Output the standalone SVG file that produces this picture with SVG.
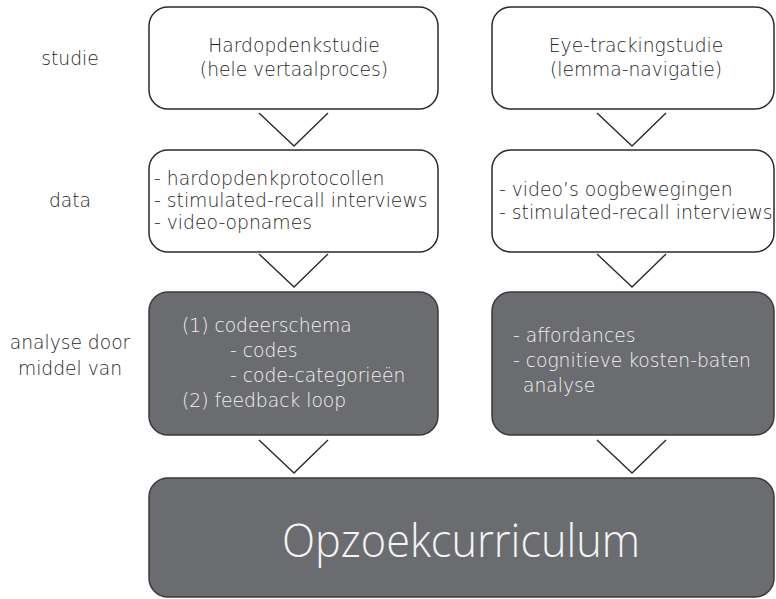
<svg xmlns="http://www.w3.org/2000/svg" width="776" height="599" viewBox="0 0 776 599">
<style>
text{font-family:"DejaVu Sans","Liberation Sans",sans-serif;font-weight:300;}
.lbl{font-size:18.7px;fill:#262626;text-anchor:middle;}
.t{font-size:18.8px;fill:#262626;}
.tc{font-size:18.7px;fill:#262626;text-anchor:middle;}
.td{font-size:18.7px;fill:#f2f2f2;}
.wbox{fill:#ffffff;stroke:#2a2a2a;stroke-width:1.5;}
.dbox{fill:#6b6c70;stroke:#3a3a3a;stroke-width:1.5;}
.chev{fill:none;stroke:#2a2a2a;stroke-width:1.4;}
.title{font-family:"Open Sans","Liberation Sans",sans-serif;font-size:46px;fill:#f4f4f4;text-anchor:middle;font-weight:300;}
</style>
<rect width="776" height="599" fill="#ffffff"/>
<g id="row-labels">
<text class="lbl" x="70" y="65">studie</text>
<text class="lbl" x="70" y="207">data</text>
<text class="lbl" x="70" y="349">analyse door</text>
<text class="lbl" x="70" y="375">middel van</text>
</g>
<g id="hardopdenkstudie">
<rect class="wbox" x="149" y="7" width="289" height="102" rx="19"/>
<text class="tc" x="294" y="52">Hardopdenkstudie</text>
<text class="tc" x="294" y="76">(hele vertaalproces)</text>
</g>
<g id="eyetrackingstudie">
<rect class="wbox" x="492" y="7" width="282" height="102" rx="19"/>
<text class="tc" x="636" y="52">Eye-trackingstudie</text>
<text class="tc" x="636" y="76">(lemma-navigatie)</text>
</g>
<g id="data-left">
<rect class="wbox" x="149" y="150" width="289" height="102" rx="19"/>
<text class="t" x="154" y="185">- hardopdenkprotocollen</text>
<text class="t" x="154" y="207">- stimulated-recall interviews</text>
<text class="t" x="154" y="229">- video-opnames</text>
</g>
<g id="data-right">
<rect class="wbox" x="492" y="150" width="282" height="102" rx="19"/>
<text class="t" x="499" y="196">- video’s oogbewegingen</text>
<text class="t" x="499" y="219">- stimulated-recall interviews</text>
</g>
<g id="analyse-left">
<rect class="dbox" x="149" y="292" width="289" height="143" rx="19"/>
<text class="td" x="182" y="332">(1) codeerschema</text>
<text class="td" x="230" y="357">- codes</text>
<text class="td" x="230" y="382">- code-categorieën</text>
<text class="td" x="182" y="407">(2) feedback loop</text>
</g>
<g id="analyse-right">
<rect class="dbox" x="492" y="292" width="282" height="143" rx="19"/>
<text class="td" x="513" y="342">- affordances</text>
<text class="td" x="513" y="367">- cognitieve kosten-baten</text>
<text class="td" x="523" y="392">analyse</text>
</g>
<g id="opzoekcurriculum">
<rect class="dbox" x="149" y="478" width="625" height="119" rx="19"/>
<text class="title" x="461" y="557" textLength="358" lengthAdjust="spacingAndGlyphs">Opzoekcurriculum</text>
</g>
<g id="connectors">
<polyline class="chev" points="259,113 294,146 328,113"/>
<polyline class="chev" points="597,113 632,146 666,113"/>
<polyline class="chev" points="259,254 294,287 328,254"/>
<polyline class="chev" points="597,254 632,287 666,254"/>
<polyline class="chev" points="259,440 294,473 328,440"/>
<polyline class="chev" points="597,440 632,473 666,440"/>
</g>
</svg>
